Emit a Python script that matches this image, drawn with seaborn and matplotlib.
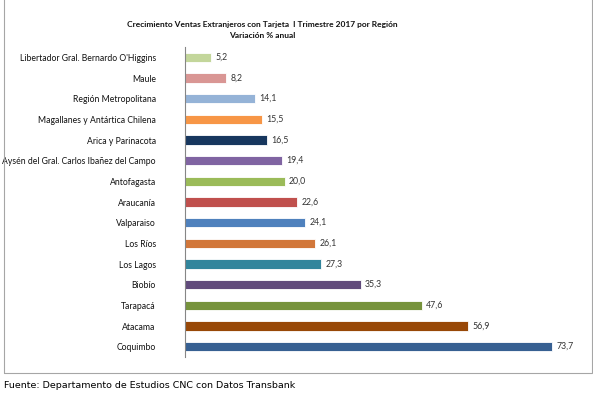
import matplotlib
matplotlib.use("Agg")
import matplotlib.pyplot as plt
from matplotlib.patches import Rectangle
import pandas as pd
import seaborn as sns

# data
regions = ["Libertador Gral. Bernardo O'Higgins", "Maule", "Región Metropolitana",
           "Magallanes y Antártica Chilena", "Arica y Parinacota",
           "Aysén del Gral. Carlos Ibañez del Campo", "Antofagasta", "Araucanía",
           "Valparaiso", "Los Ríos", "Los Lagos", "Biobío", "Tarapacá",
           "Atacama", "Coquimbo"]
growth = [5.2, 8.2, 14.1, 15.5, 16.5, 19.4, 20.0, 22.6, 24.1, 26.1, 27.3,
          35.3, 47.6, 56.9, 73.7]
bar_colors = ["#c3d69b", "#d99694", "#95b3d7", "#f79646", "#17375e", "#8064a2",
              "#9bbb59", "#c0504d", "#4f81bd", "#d2773a", "#31859c", "#604a7b",
              "#77933c", "#984807", "#376092"]

df = pd.DataFrame({"Region": regions, "Growth": growth})

sns.set_style("white")
plt.rcParams['font.family'] = ['Lato', 'DejaVu Sans']

fig = plt.figure(figsize=(5.93, 3.96), dpi=100)
ax = fig.add_axes([185 / 593, 1 - 357 / 396, 398 / 593, 310 / 396])

sns.barplot(data=df, x="Growth", y="Region", hue="Region", palette=bar_colors,
            saturation=1, legend=False, width=0.45, edgecolor="white",
            linewidth=0.6, ax=ax)

for i, v in enumerate(growth):
    ax.text(v + 0.9, i, f"{v:.1f}".replace(".", ","), va="center", ha="left",
            fontsize=6.3, color="#333333")

ax.set_xlim(0, 80)
ax.set_ylim(14.5, -0.5)
ax.set_xlabel("")
ax.set_ylabel("")
ax.set_xticks([])
ax.tick_params(axis="y", length=0, pad=21, labelsize=6.2, labelcolor="#111111")
for s in ["top", "right", "bottom"]:
    ax.spines[s].set_visible(False)
ax.spines["left"].set_color("#868686")
ax.spines["left"].set_linewidth(0.8)

fig.text(262 / 593, 1 - 24 / 396,
         "Crecimiento Ventas Extranjeros con Tarjeta  I Trimestre 2017 por Región",
         ha="center", va="center", fontsize=6.0, fontweight="bold", color="#111111")
fig.text(262 / 593, 1 - 36 / 396, "Variación % anual",
         ha="center", va="center", fontsize=6.0, fontweight="bold", color="#111111")

# outer frame of the chart object
fig.patches.append(Rectangle((4 / 593, 1 - 373 / 396), 588 / 593, 373 / 396 + 0.05,
                             transform=fig.transFigure, fill=False,
                             edgecolor="#a6a6a6", linewidth=0.8))

fig.text(4 / 593, 1 - 386 / 396, "Fuente: Departamento de Estudios CNC con Datos Transbank",
         ha="left", va="center", fontsize=6.8, color="#000000",
         family=['DejaVu Sans'])

fig.savefig("out.png", dpi=100)
